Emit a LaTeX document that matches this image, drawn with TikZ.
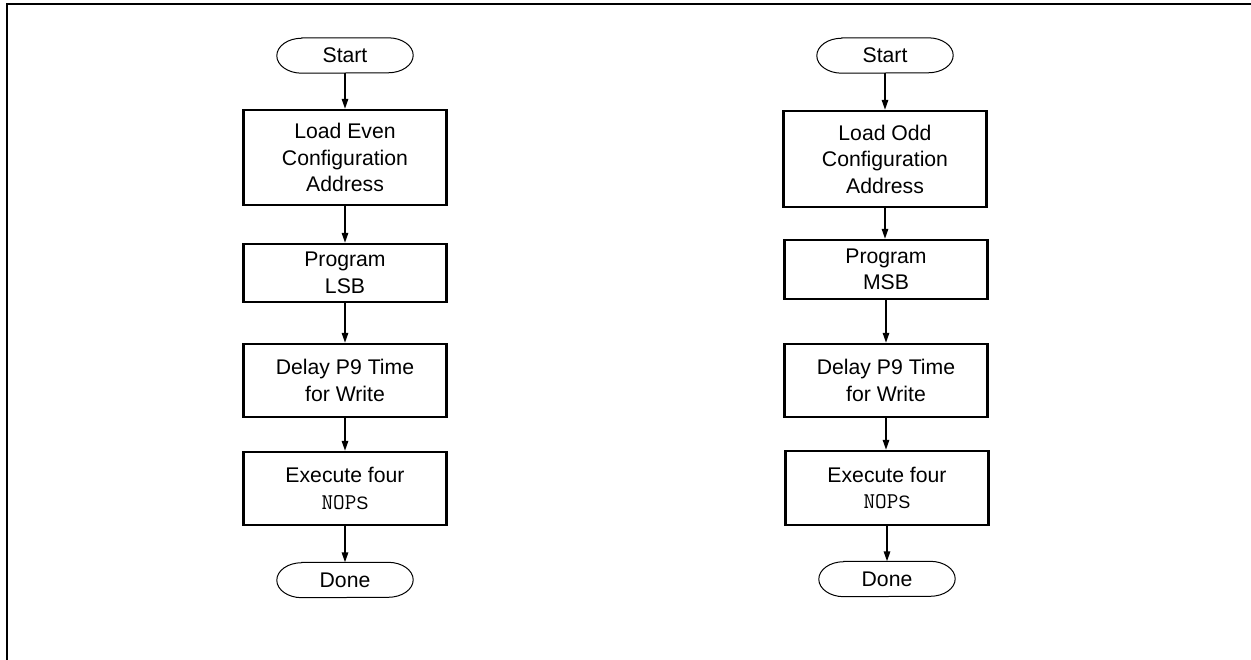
\documentclass[tikz,border=0pt]{standalone}
\usepackage{fontspec}
\setmainfont{Liberation Sans}
\usetikzlibrary{arrows.meta}
\newcommand\termoutline[1]{%
  \draw[termline] (#1.north west) -- (#1.north east)
    arc[start angle=90,end angle=-90,x radius=25pt,y radius=17.5pt]
    -- (#1.south west)
    arc[start angle=270,end angle=90,x radius=25pt,y radius=17.5pt] -- cycle;}
\newcommand\nopstext{{\ttfamily\fontsize{22.5}{26.5}\selectfont NOP}{\fontsize{18}{26.5}\selectfont S}}
\begin{document}
\begin{tikzpicture}[x=1pt,y=-1pt,
  every node/.style={font=\fontsize{21.2}{26.5}\selectfont, align=center, inner sep=0pt},
  stepbox/.style={draw, line width=2.5pt, minimum width=203pt},
  term/.style={minimum width=86pt, minimum height=35pt},
  termline/.style={line width=1pt},
  conn/.style={line width=1.5pt, -{Triangle[length=10pt,width=6.5pt]}},
  frameline/.style={line width=2.5pt}]
\useasboundingbox (0,0) rectangle (1251,659);
% frame
\coordinate (fbl) at (7,662);
\coordinate (ftl) at (7,4);
\coordinate (ftr) at (1254,4);
\draw[frameline] (fbl) -- (ftl) -- (ftr);
% left column
\node[term] (startL) at (345,55.5) {Start};
\node[stepbox, minimum height=95pt] (b1L) at (345,157.5) {Load Even\\Configuration\\Address};
\node[stepbox, minimum height=58pt] (b2L) at (345,273) {Program\\LSB};
\node[stepbox, minimum height=73pt] (b3L) at (345,380.5) {Delay P9 Time\\for Write};
\node[stepbox, minimum height=73pt] (b4L) at (345,488.5) {Execute four\\\nopstext};
\node[term] (doneL) at (345,580) {Done};
\termoutline{startL}
\termoutline{doneL}
% right column
\node[term] (startR) at (885,55.5) {Start};
\node[stepbox, minimum height=96pt] (b1R) at (885,159) {Load Odd\\Configuration\\Address};
\node[stepbox, minimum height=59pt] (b2R) at (886,269.5) {Program\\MSB};
\node[stepbox, minimum height=73pt] (b3R) at (886,380.5) {Delay P9 Time\\for Write};
\node[stepbox, minimum height=74pt] (b4R) at (887,488) {Execute four\\\nopstext};
\node[term] (doneR) at (887,579) {Done};
\termoutline{startR}
\termoutline{doneR}
% connectors
\foreach \a/\b in {startL/b1L,b1L/b2L,b2L/b3L,b3L/b4L,b4L/doneL,startR/b1R,b1R/b2R,b2R/b3R,b3R/b4R,b4R/doneR}
  \draw[conn] (\a.south) -- (\a.south |- \b.north);
\end{tikzpicture}
\end{document}
